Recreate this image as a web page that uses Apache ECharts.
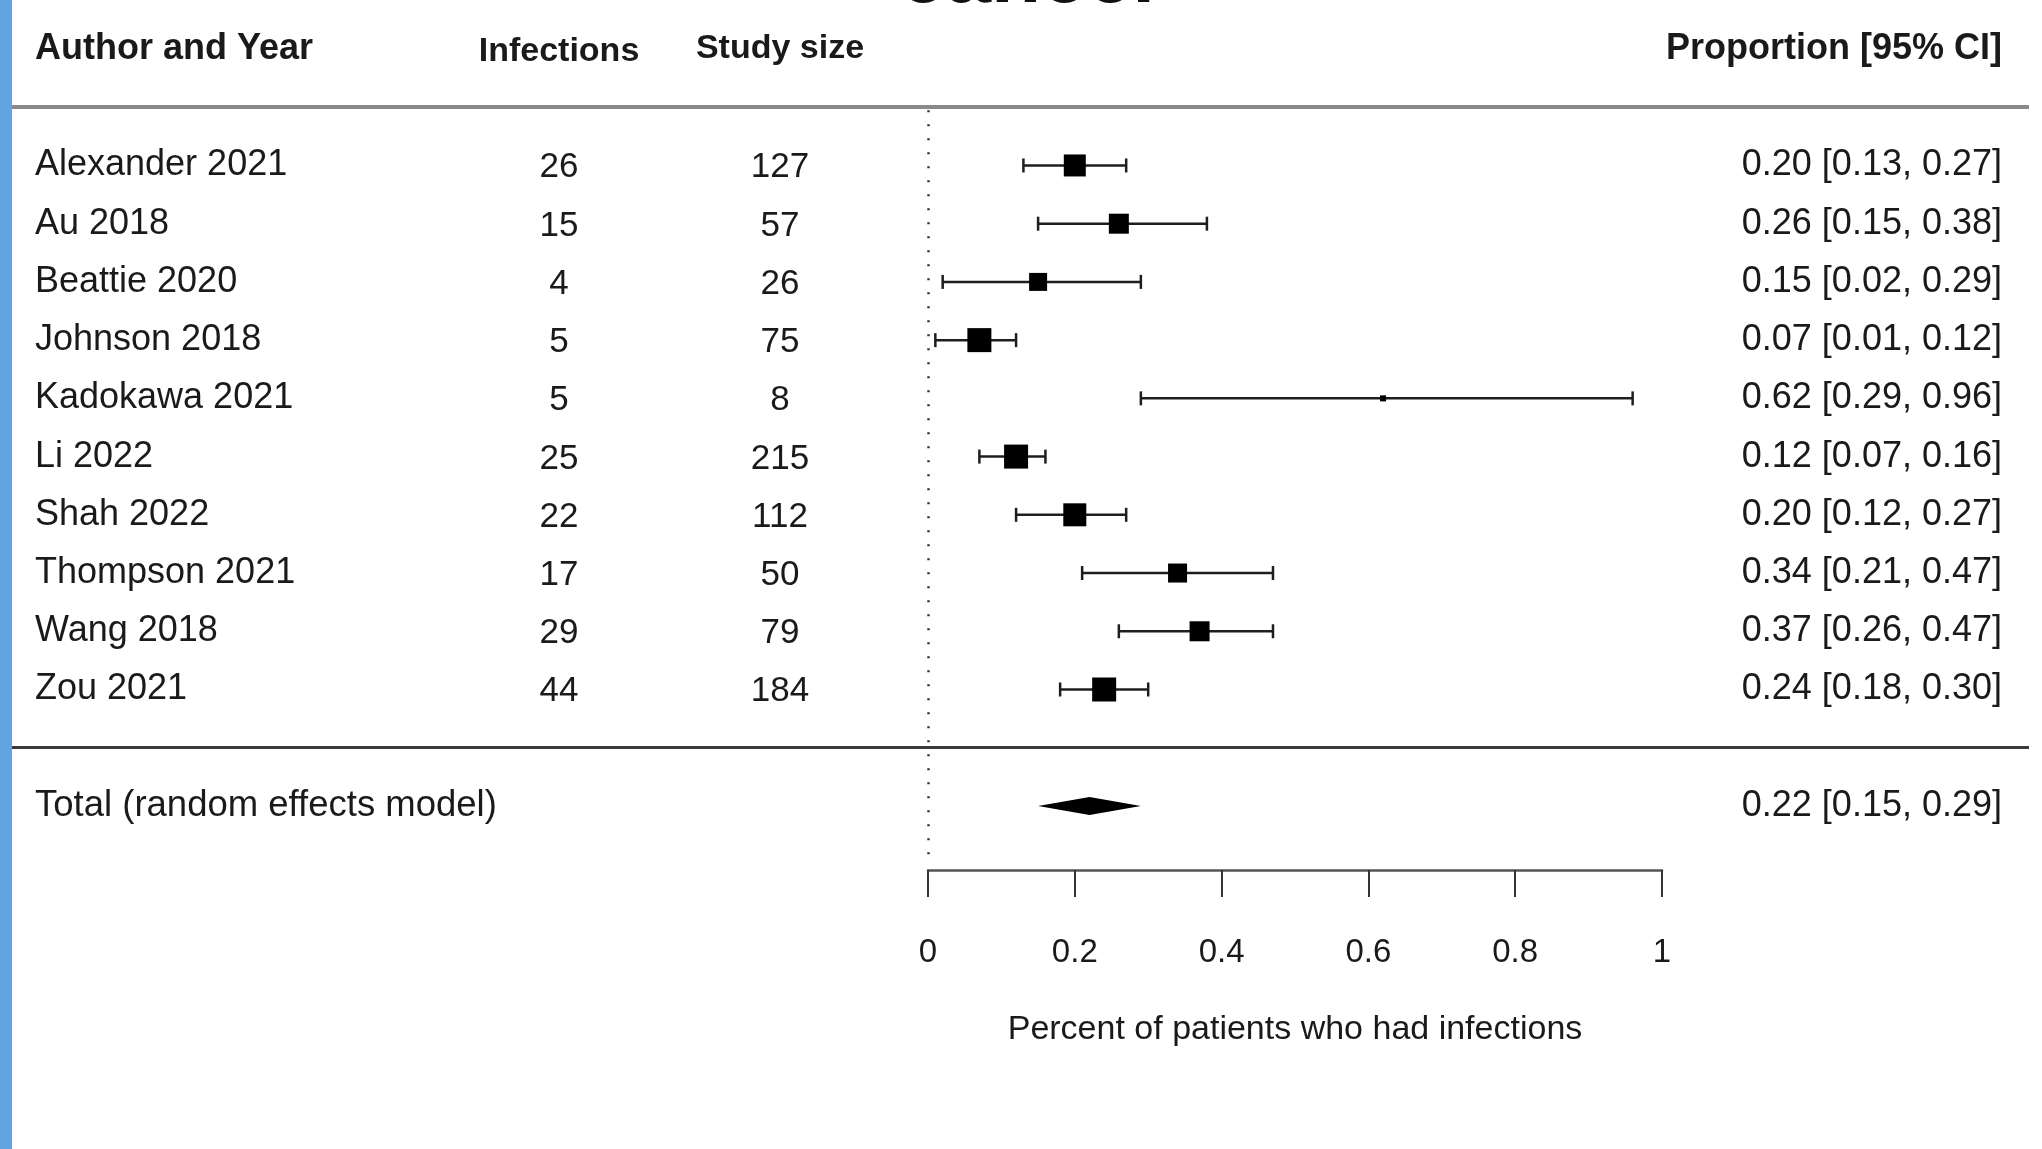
<!DOCTYPE html>
<html><head><meta charset="utf-8">
<script src="https://cdn.jsdelivr.net/npm/echarts@6/dist/echarts.min.js"></script>
<style>html,body{margin:0;padding:0;background:#fff}#c{width:2042px;height:1149px}</style>
</head><body><div id="c"></div>
<script>
// ---------------- data ----------------
const authors = ['Alexander 2021','Au 2018','Beattie 2020','Johnson 2018','Kadokawa 2021','Li 2022','Shah 2022','Thompson 2021','Wang 2018','Zou 2021'];
const infections = [26, 15, 4, 5, 5, 25, 22, 17, 29, 44];
const studySize = [127, 57, 26, 75, 8, 215, 112, 50, 79, 184];
const proportion = [0.20, 0.26, 0.15, 0.07, 0.62, 0.12, 0.20, 0.34, 0.37, 0.24];
const ciLower = [0.13, 0.15, 0.02, 0.01, 0.29, 0.07, 0.12, 0.21, 0.26, 0.18];
const ciUpper = [0.27, 0.38, 0.29, 0.12, 0.96, 0.16, 0.27, 0.47, 0.47, 0.30];
const weights = [22, 20, 18, 24, 6, 24, 23, 19, 20, 24];   // relative study weight (box size)
const totalLabel = 'Total (random effects model)';
const totalEst = 0.22, totalLower = 0.15, totalUpper = 0.29;
const headers = ['Author and Year', 'Infections', 'Study size', 'Proportion [95% CI]'];
const xTicks = [0, 0.2, 0.4, 0.6, 0.8, 1];
const xTitle = 'Percent of patients who had infections';
const titleTail = 'cancer';

// ---------------- layout ----------------
const FONT = '"Liberation Sans", Arial, Helvetica, sans-serif';
const GRID_TOP = 49, GRID_BOTTOM = 279;
const Y_MIN = -2, Y_MAX = 12.1;
const HEADER_ROW = -2, TOP_RULE = -1, BOTTOM_RULE = 10, TOTAL_ROW = 11;
const TABLE_L = 12, TABLE_R = 2029;
const COL = { name: 35, inf: 559, size: 780, prop: 2002 };
const TEXT_COLOR = '#1a1a1a';
const BOX_SCALE = 1;

const fmt = v => v.toFixed(2);
const propText = (e, l, u) => `${fmt(e)} [${fmt(l)}, ${fmt(u)}]`;

const cells = [];
cells.push({ x: COL.name, row: HEADER_ROW, text: headers[0], align: 'left', bold: true, size: 36 });
cells.push({ x: COL.inf, row: HEADER_ROW + 0.05, text: headers[1], align: 'center', bold: true, size: 34 });
cells.push({ x: COL.size, row: HEADER_ROW, text: headers[2], align: 'center', bold: true, size: 34 });
cells.push({ x: COL.prop, row: HEADER_ROW, text: headers[3], align: 'right', bold: true, size: 36 });
authors.forEach((a, i) => {
  cells.push({ x: COL.name, row: i, text: a, align: 'left', size: 36 });
  cells.push({ x: COL.inf, row: i + 0.04, text: String(infections[i]), align: 'center', size: 35 });
  cells.push({ x: COL.size, row: i + 0.04, text: String(studySize[i]), align: 'center', size: 35 });
  cells.push({ x: COL.prop, row: i, text: propText(proportion[i], ciLower[i], ciUpper[i]), align: 'right', size: 36 });
});
cells.push({ x: COL.name, row: TOTAL_ROW, text: totalLabel, align: 'left', size: 36.5 });
cells.push({ x: COL.prop, row: TOTAL_ROW, text: propText(totalEst, totalLower, totalUpper), align: 'right', size: 36 });

const chart = echarts.init(document.getElementById('c'), null, { renderer: 'canvas' });

const option = {
  backgroundColor: '#ffffff',
  animation: false,
  grid: [
    { left: TABLE_L, right: 2042 - TABLE_R, top: GRID_TOP, bottom: GRID_BOTTOM },
    { left: 928, width: 734, top: GRID_TOP, bottom: GRID_BOTTOM }
  ],
  xAxis: [
    { gridIndex: 0, type: 'value', min: TABLE_L, max: TABLE_R, show: false },
    {
      gridIndex: 1, type: 'value', min: xTicks[0], max: xTicks[xTicks.length - 1], interval: 0.2,
      position: 'bottom',
      axisLine: { show: true, onZero: false, lineStyle: { color: '#555', width: 2.5 } },
      axisTick: { show: true, inside: false, length: 27, lineStyle: { color: '#333', width: 2 } },
      axisLabel: { margin: 66, fontSize: 33, color: TEXT_COLOR, fontFamily: FONT,
        formatter: v => String(+v.toFixed(1)) },
      splitLine: { show: false },
      name: xTitle, nameLocation: 'middle', nameGap: 143,
      nameTextStyle: { fontSize: 34, color: TEXT_COLOR, fontFamily: FONT }
    }
  ],
  yAxis: [
    { gridIndex: 0, type: 'value', min: Y_MIN, max: Y_MAX, inverse: true, show: false },
    { gridIndex: 1, type: 'value', min: Y_MIN, max: Y_MAX, inverse: true, show: false }
  ],
  graphic: [
    { type: 'rect', left: 0, top: 0, shape: { x: 0, y: 0, width: 12, height: 1149 }, style: { fill: '#62a3e4' }, z: 100 },
    { type: 'text', x: 1032, y: -21, style: { text: titleTail, align: 'center', verticalAlign: 'middle',
        font: 'bold 82px ' + FONT, fill: '#111' }, z: 100 }
  ],
  series: [
    {
      type: 'custom', name: 'table', xAxisIndex: 0, yAxisIndex: 0,
      data: cells.map(c => [c.x, c.row]),
      renderItem: (params, api) => {
        const c = cells[params.dataIndex];
        const p = api.coord([c.x, c.row]);
        return { type: 'text', x: p[0], y: p[1],
          style: { text: c.text, align: c.align, verticalAlign: 'middle',
            font: (c.bold ? 'bold ' : '') + c.size + 'px ' + FONT, fill: TEXT_COLOR } };
      },
      markLine: {
        silent: true, symbol: 'none', label: { show: false },
        data: [
          { yAxis: TOP_RULE, lineStyle: { color: '#8a8a8a', width: 4, type: 'solid' } },
          { yAxis: BOTTOM_RULE, lineStyle: { color: '#3a3a3a', width: 3, type: 'solid' } }
        ]
      }
    },
    {
      type: 'custom', name: 'ci', xAxisIndex: 1, yAxisIndex: 1,
      data: authors.map((a, i) => [ciLower[i], ciUpper[i], i]),
      renderItem: (params, api) => {
        const a = api.coord([api.value(0), api.value(2)]);
        const b = api.coord([api.value(1), api.value(2)]);
        const cap = 7;
        const st = { stroke: '#1e1e1e', lineWidth: 2.5 };
        return { type: 'group', children: [
          { type: 'line', shape: { x1: a[0], y1: a[1], x2: b[0], y2: b[1] }, style: st },
          { type: 'line', shape: { x1: a[0], y1: a[1] - cap, x2: a[0], y2: a[1] + cap }, style: st },
          { type: 'line', shape: { x1: b[0], y1: b[1] - cap, x2: b[0], y2: b[1] + cap }, style: st }
        ] };
      },
      markLine: {
        silent: true, symbol: 'none', label: { show: false },
        lineStyle: { color: '#333', width: 2.5, type: [2, 12] },
        data: [[{ coord: [0, -0.95] }, { coord: [0, 11.85] }]]
      }
    },
    {
      type: 'scatter', name: 'estimate', xAxisIndex: 1, yAxisIndex: 1,
      symbol: 'rect',
      data: authors.map((a, i) => [proportion[i], i, weights[i]]),
      symbolSize: v => v[2] * BOX_SCALE,
      itemStyle: { color: '#000', opacity: 1 },
      z: 5
    },
    {
      type: 'custom', name: 'pooled', xAxisIndex: 1, yAxisIndex: 1,
      data: [[totalLower, totalEst, totalUpper, TOTAL_ROW]],
      renderItem: (params, api) => {
        const l = api.coord([api.value(0), api.value(3)]);
        const e = api.coord([api.value(1), api.value(3)]);
        const u = api.coord([api.value(2), api.value(3)]);
        const h = 9;
        return { type: 'polygon', shape: { points: [[l[0], l[1]], [e[0], e[1] - h], [u[0], u[1]], [e[0], e[1] + h]] },
          style: { fill: '#000' } };
      }
    }
  ]
};
chart.setOption(option);
</script>
</body></html>
